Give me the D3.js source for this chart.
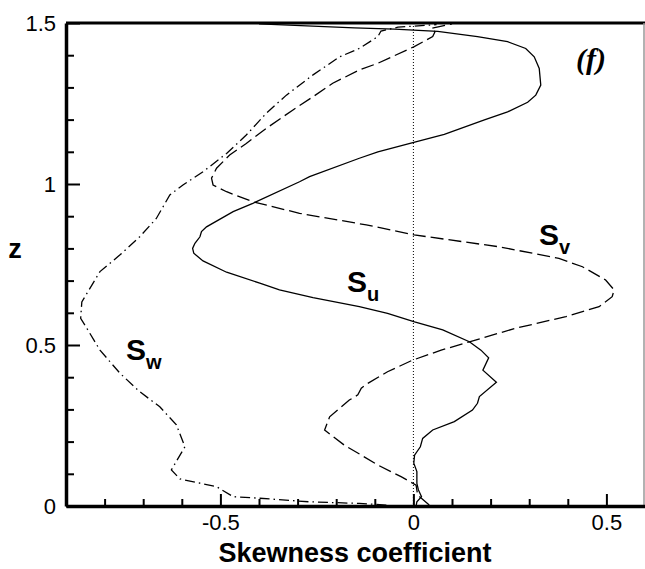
<!DOCTYPE html>
<html>
<head>
<meta charset="utf-8">
<script src="https://cdn.jsdelivr.net/npm/d3@7"></script>
<style>
  body { margin: 0; background: #fff; }
  svg { display: block; font-family: Arial, "Liberation Sans", sans-serif; }
</style>
</head>
<body>
<div id="chart"></div>
<script>
// tick values and labels
const zTicks = [0, 0.5, 1, 1.5];
const zTickLabels = ["0", "0.5", "1", "1.5"];
const zMinor = [0.1, 0.2, 0.3, 0.4, 0.6, 0.7, 0.8, 0.9, 1.1, 1.2, 1.3, 1.4];
const skewTicks = [-0.5, 0, 0.5];
const skewTickLabels = ["-0.5", "0", "0.5"];
const skewMinor = [-0.8, -0.7, -0.6, -0.4, -0.3, -0.2, -0.1, 0.1, 0.2, 0.3, 0.4];

// S_u (solid) : skewness, z
const suSkew = [0.007, 0.009, 0.021, 0.013, 0.009, 0.009, 0.001, 0.003, 0.018, 0.024, 0.050, 0.106, 0.153, 0.166, 0.171, 0.215, 0.180, 0.195, 0.175, 0.145, 0.076, 0.003, -0.067, -0.140, -0.260, -0.347, -0.398, -0.484, -0.545, -0.569, -0.572, -0.566, -0.553, -0.549, -0.536, -0.467, -0.416, -0.295, -0.269, -0.140, -0.092, 0.001, 0.080, 0.184, 0.244, 0.296, 0.317, 0.330, 0.326, 0.313, 0.291, 0.244, 0.166, 0.063, -0.049, -0.153, -0.400];
const suZ = [0.000, 0.013, 0.029, 0.050, 0.070, 0.107, 0.133, 0.158, 0.184, 0.210, 0.236, 0.262, 0.298, 0.319, 0.340, 0.384, 0.422, 0.460, 0.484, 0.510, 0.547, 0.572, 0.598, 0.619, 0.647, 0.671, 0.692, 0.726, 0.761, 0.785, 0.800, 0.816, 0.836, 0.852, 0.867, 0.914, 0.940, 1.007, 1.023, 1.080, 1.100, 1.129, 1.154, 1.199, 1.224, 1.254, 1.276, 1.307, 1.359, 1.395, 1.421, 1.442, 1.458, 1.474, 1.481, 1.485, 1.497];

// S_v (dashed)
const svSkew = [0.041, 0.011, 0.007, -0.032, -0.092, -0.135, -0.179, -0.230, -0.217, -0.166, -0.144, -0.135, -0.118, -0.067, -0.002, 0.072, 0.145, 0.265, 0.395, 0.481, 0.515, 0.520, 0.498, 0.438, 0.377, 0.222, 0.002, -0.122, -0.295, -0.416, -0.484, -0.519, -0.523, -0.510, -0.476, -0.433, -0.381, -0.312, -0.260, -0.209, -0.140, -0.092, 0.001, 0.050, 0.056, 0.046, 0.100];
const svZ = [0.003, 0.034, 0.065, 0.091, 0.127, 0.158, 0.189, 0.236, 0.277, 0.329, 0.345, 0.366, 0.381, 0.417, 0.453, 0.484, 0.510, 0.552, 0.588, 0.619, 0.650, 0.671, 0.702, 0.743, 0.769, 0.805, 0.842, 0.873, 0.909, 0.945, 0.976, 0.997, 1.018, 1.049, 1.090, 1.126, 1.173, 1.230, 1.271, 1.313, 1.354, 1.375, 1.426, 1.458, 1.473, 1.483, 1.497];

// S_w (dash-dot)
const swSkew = [-0.070, -0.140, -0.269, -0.398, -0.467, -0.510, -0.605, -0.627, -0.592, -0.614, -0.657, -0.709, -0.760, -0.812, -0.846, -0.862, -0.859, -0.838, -0.812, -0.760, -0.709, -0.666, -0.631, -0.597, -0.545, -0.484, -0.433, -0.381, -0.329, -0.260, -0.191, -0.140, -0.092, -0.084, -0.040, 0.060];
const swZ = [0.003, 0.008, 0.013, 0.024, 0.029, 0.060, 0.084, 0.112, 0.184, 0.252, 0.308, 0.355, 0.412, 0.484, 0.552, 0.583, 0.634, 0.676, 0.728, 0.780, 0.836, 0.893, 0.966, 0.997, 1.038, 1.095, 1.152, 1.220, 1.276, 1.339, 1.395, 1.421, 1.458, 1.475, 1.487, 1.495];

const W = 645, H = 569;
const plotL = 66, plotR = 645, plotT = 23, plotB = 506;

const svg = d3.select("#chart").append("svg")
  .attr("width", W)
  .attr("height", H);

const x = d3.scaleLinear().domain([-0.9, 0.6]).range([plotL, plotR]);
const y = d3.scaleLinear().domain([0, 1.5]).range([plotB, plotT]);

svg.append("clipPath").attr("id", "plotclip")
  .append("rect")
  .attr("x", plotL).attr("y", plotT - 1)
  .attr("width", plotR - plotL).attr("height", plotB - plotT + 1);

// zero line
svg.append("line")
  .attr("x1", x(0)).attr("x2", x(0))
  .attr("y1", y(1.5)).attr("y2", y(0))
  .attr("stroke", "#000")
  .attr("stroke-width", 1)
  .attr("stroke-dasharray", "1,2");

const line = d3.line()
  .x(d => x(d[0]))
  .y(d => y(d[1]));

const series = [
  { sk: suSkew, z: suZ, dash: null },
  { sk: svSkew, z: svZ, dash: "13,5" },
  { sk: swSkew, z: swZ, dash: "10,4,1.5,4" }
];

const curves = svg.append("g").attr("clip-path", "url(#plotclip)");
series.forEach(s => {
  const pts = s.sk.map((v, i) => [v, s.z[i]]);
  curves.append("path")
    .attr("d", line(pts))
    .attr("fill", "none")
    .attr("stroke", "#000")
    .attr("stroke-width", 1.3)
    .attr("stroke-dasharray", s.dash);
});

// frame: top and right
svg.append("line")
  .attr("x1", plotL).attr("x2", plotR)
  .attr("y1", plotT).attr("y2", plotT)
  .attr("stroke", "#000").attr("stroke-width", 3);
svg.append("line")
  .attr("x1", plotR - 1).attr("x2", plotR - 1)
  .attr("y1", plotT).attr("y2", plotB)
  .attr("stroke", "#999").attr("stroke-width", 1.5);

// left axis
svg.append("g").attr("transform", `translate(${plotL},0)`)
  .call(d3.axisLeft(y).tickValues(zTicks).tickSizeInner(-14).tickSizeOuter(0).tickPadding(10)
    .tickFormat((d, i) => zTickLabels[i]));
svg.append("g").attr("transform", `translate(${plotL},0)`)
  .call(d3.axisLeft(y).tickValues(zMinor).tickSizeInner(-8).tickSizeOuter(0).tickFormat(""))
  .call(g => g.select(".domain").remove());

// bottom axis
svg.append("g").attr("transform", `translate(0,${plotB})`)
  .call(d3.axisBottom(x).tickValues(skewTicks).tickSizeInner(-12).tickSizeOuter(0).tickPadding(8)
    .tickFormat((d, i) => skewTickLabels[i]));
svg.append("g").attr("transform", `translate(0,${plotB})`)
  .call(d3.axisBottom(x).tickValues(skewMinor).tickSizeInner(-7).tickSizeOuter(0).tickFormat(""))
  .call(g => g.select(".domain").remove());

svg.selectAll(".domain").attr("stroke", "#000").attr("stroke-width", 3.5);
svg.selectAll(".tick line").attr("stroke", "#000").attr("stroke-width", 2);
svg.selectAll(".tick text").attr("font-size", 22).attr("fill", "#000")
  .attr("font-family", "Arial, 'Liberation Sans', sans-serif");

// axis titles
svg.append("text")
  .attr("x", 355).attr("y", 562)
  .attr("text-anchor", "middle")
  .attr("font-size", 27).attr("font-weight", "bold")
  .text("Skewness coefficient");
svg.append("text")
  .attr("x", 15).attr("y", 258)
  .attr("text-anchor", "middle")
  .attr("font-size", 27).attr("font-weight", "bold")
  .text("z");

// curve labels
const labels = [
  { s: "u", x: 347, y: 292 },
  { s: "v", x: 539, y: 245 },
  { s: "w", x: 126, y: 360 }
];
labels.forEach(l => {
  const t = svg.append("text")
    .attr("x", l.x).attr("y", l.y)
    .attr("font-size", 30).attr("font-weight", "bold");
  t.append("tspan").text("S");
  t.append("tspan").attr("dy", 9).attr("font-size", 20).text(l.s);
});

// panel label
svg.append("text")
  .attr("x", 591).attr("y", 69)
  .attr("text-anchor", "middle")
  .attr("font-family", "'Liberation Serif', 'Times New Roman', serif")
  .attr("font-style", "italic").attr("font-weight", "bold")
  .attr("font-size", 30)
  .text("(f)");
</script>
</body>
</html>
